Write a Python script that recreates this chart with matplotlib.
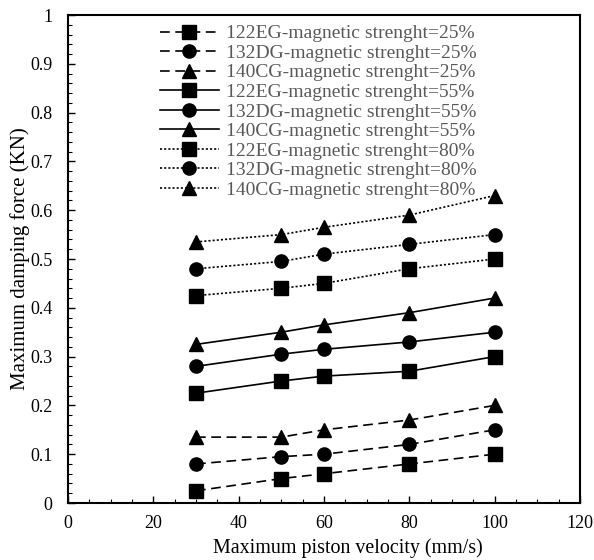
import matplotlib.pyplot as plt
from matplotlib.ticker import MultipleLocator

plt.rcParams['font.family'] = 'Liberation Serif'
plt.rcParams['lines.scale_dashes'] = False

# piston velocity (mm/s)
velocity = [30, 50, 60, 80, 100]

# magnetic strength 25%
eg_25 = [0.025, 0.05, 0.06, 0.08, 0.10]
dg_25 = [0.08, 0.095, 0.10, 0.12, 0.15]
cg_25 = [0.135, 0.135, 0.15, 0.17, 0.20]

# magnetic strength 55%
eg_55 = [0.225, 0.25, 0.26, 0.27, 0.30]
dg_55 = [0.28, 0.305, 0.315, 0.33, 0.35]
cg_55 = [0.325, 0.35, 0.365, 0.39, 0.42]

# magnetic strength 80%
eg_80 = [0.425, 0.44, 0.45, 0.48, 0.50]
dg_80 = [0.48, 0.495, 0.51, 0.53, 0.55]
cg_80 = [0.535, 0.55, 0.565, 0.59, 0.63]

fig = plt.figure(figsize=(5.94, 5.6), dpi=100)
ax = fig.add_axes([68 / 594, 57 / 560, 512 / 594, 488 / 560])

dash = (0, (7, 4))
dot = (0, (1.5, 1.5))
ms = 9.5
lw = 1.2

series = [
    (eg_25, 's', dash, '122EG-magnetic strenght=25%'),
    (dg_25, 'o', dash, '132DG-magnetic strenght=25%'),
    (cg_25, '^', dash, '140CG-magnetic strenght=25%'),
    (eg_55, 's', '-', '122EG-magnetic strenght=55%'),
    (dg_55, 'o', '-', '132DG-magnetic strenght=55%'),
    (cg_55, '^', '-', '140CG-magnetic strenght=55%'),
    (eg_80, 's', dot, '122EG-magnetic strenght=80%'),
    (dg_80, 'o', dot, '132DG-magnetic strenght=80%'),
    (cg_80, '^', dot, '140CG-magnetic strenght=80%'),
]

for vals, mk, ls, lab in series:
    ax.plot(velocity, vals, color='black', marker=mk, markersize=ms,
            linestyle=ls, linewidth=lw, label=lab)

ax.set_xlim(0, 120)
ax.set_ylim(0, 1)
ax.xaxis.set_major_locator(MultipleLocator(20))
ax.xaxis.set_minor_locator(MultipleLocator(5))
ax.yaxis.set_minor_locator(MultipleLocator(0.02))
ax.set_yticks([0, 0.1, 0.2, 0.3, 0.4, 0.5, 0.6, 0.7, 0.8, 0.9, 1.0])
ax.set_yticklabels(['0', '0.1', '0.2', '0.3', '0.4', '0.5', '0.6', '0.7', '0.8', '0.9', '1'])
ax.tick_params(which='both', direction='in', labelsize=13, top=False, right=False)
ax.tick_params(which='major', length=5, width=1)
ax.tick_params(which='minor', length=3, width=0.8)
ax.tick_params(axis='x', pad=9)
ax.tick_params(axis='y', pad=11)
for s in ax.spines.values():
    s.set_linewidth(1.5)

ax.set_xlabel('Maximum piston velocity (mm/s)', fontsize=14.4, labelpad=1)
ax.set_ylabel('Maximum damping force (KN)', fontsize=15, labelpad=0)
ax.xaxis.set_label_coords(0.547, -0.072)

leg = ax.legend(loc='upper left', bbox_to_anchor=(0.165, 0.996), frameon=False,
                fontsize=14, handlelength=3.0, handletextpad=0.36,
                labelspacing=0.1, borderaxespad=0.0)
for t in leg.get_texts():
    t.set_color('#595959')

fig.savefig('out.png', dpi=100)
